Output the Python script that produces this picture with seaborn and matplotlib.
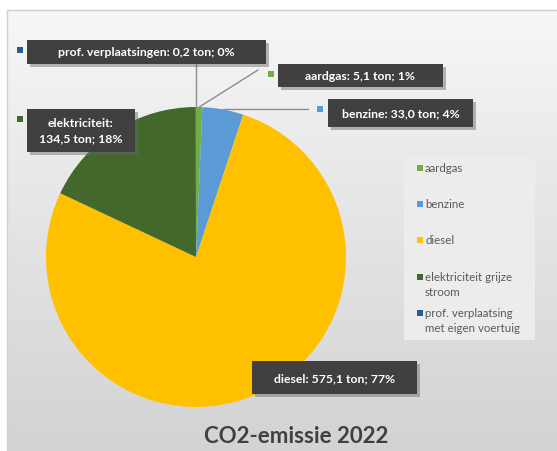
import matplotlib
matplotlib.use("Agg")
import matplotlib.pyplot as plt
import matplotlib.patheffects as pe
from matplotlib.colors import LinearSegmentedColormap
from matplotlib.lines import Line2D
from matplotlib.patches import Rectangle
import numpy as np
import seaborn as sns

# data
categories = ["aardgas", "benzine", "diesel", "elektriciteit grijze stroom",
              "prof. verplaatsing met eigen voertuig"]
legend_labels = ["aardgas", "benzine", "diesel", "elektriciteit grijze\nstroom",
                 "prof. verplaatsing\nmet eigen voertuig"]
label_names = ["aardgas", "benzine", "diesel", "elektriciteit", "prof. verplaatsingen"]
values = [5.1, 33.0, 575.1, 134.5, 0.2]
colors = ["#70ad47", "#5b9bd5", "#ffc000", "#43682b", "#255e91"]
title = "CO2-emissie 2022"

sns.set_theme(style="white")
plt.rcParams["font.family"] = ["Lato", "DejaVu Sans"]

W, H = 557, 452
fig = plt.figure(figsize=(W / 100, H / 100), dpi=100)
fig.patch.set_facecolor("white")


def fx(px):
    return px / W


def fy(py):
    return 1 - py / H


# background gradient of the chart area
bg = fig.add_axes([fx(7), 0, 1 - fx(7), fy(11)], zorder=-10)
cmap = LinearSegmentedColormap.from_list("bg", ["#f7f7f7", "#e4e4e4", "#d3d3d3"])
bg.imshow(np.linspace(0, 1, 256).reshape(-1, 1), cmap=cmap, aspect="auto",
          extent=[0, 1, 0, 1])
bg.set_axis_off()
fig.add_artist(Line2D([fx(7), fx(7), 1], [0, fy(11), fy(11)],
                      transform=fig.transFigure, color="#d0d0d0", lw=1))

# pie
ax = fig.add_axes([fx(46), fy(408), 300 / W, 300 / H])
wedges, _ = ax.pie(values, colors=colors, startangle=90, counterclock=False,
                   wedgeprops=dict(linewidth=0))
ax.set_xlim(-1, 1)
ax.set_ylim(-1, 1)
ax.set_aspect("equal")

total = sum(values)
shadow = [pe.withSimplePatchShadow(offset=(2, -2), shadow_rgbFace="#666666", alpha=0.45)]

# label boxes: (left, top, right, bottom) in px, marker pos
boxes = {
    "aardgas": (278, 65, 443, 88),
    "benzine": (328, 100, 473, 128),
    "diesel": (252, 362, 417, 395),
    "elektriciteit": (27, 110, 135, 153),
    "prof. verplaatsingen": (27, 41, 266, 65),
}
markers = {
    "aardgas": (268, 72),
    "benzine": (317, 107),
    "elektriciteit": (17, 117),
    "prof. verplaatsingen": (17, 48),
}

for name, v, c in zip(label_names, values, colors):
    pct = round(v / total * 100)
    val = f"{v:.1f}".replace(".", ",")
    if name == "elektriciteit":
        txt = f"{name}:\n{val} ton; {pct}%"
    else:
        txt = f"{name}: {val} ton; {pct}%"
    l, t, r, b = boxes[name]
    rect = Rectangle((fx(l), fy(b)), fx(r - l), (b - t) / H, transform=fig.transFigure,
                     facecolor="#404040", edgecolor="none", zorder=5)
    rect.set_path_effects(shadow + [pe.Normal()])
    fig.add_artist(rect)
    fig.text(fx((l + r) / 2), fy((t + b) / 2), txt, ha="center", va="center",
             color="white", fontsize=8.8, fontweight="bold", zorder=6,
             linespacing=1.45)
    if name in markers:
        mx, my = markers[name]
        fig.add_artist(Rectangle((fx(mx), fy(my + 6)), fx(6), 6 / H,
                                 transform=fig.transFigure, facecolor=c,
                                 edgecolor="none", zorder=5))

# leader lines from wedge edges
def edge_point(i, frac):
    a0 = 90 - sum(values[:i]) / total * 360
    a1 = a0 - values[i] / total * 360
    ang = np.deg2rad(a0 + (a1 - a0) * frac)
    p = ax.transData.transform((np.cos(ang), np.sin(ang)))
    return fig.transFigure.inverted().transform(p)


lines = [
    (label_names.index("prof. verplaatsingen"), 1.0, (196, 65)),
    (label_names.index("aardgas"), 0.5, (258, 71)),
    (label_names.index("benzine"), 0.5, (308, 110)),
]
for i, frac, (tx, ty) in lines:
    p = edge_point(i, frac)
    if i == label_names.index("benzine"):
        ty = (1 - p[1]) * H
    fig.add_artist(Line2D([p[0], fx(tx)], [p[1], fy(ty)], transform=fig.transFigure,
                          color="#8c8c8c", lw=1, zorder=4))

# legend, manual layout like the Excel chart
fig.add_artist(Rectangle((fx(404), fy(341)), fx(131), 183 / H, transform=fig.transFigure,
                         facecolor="#ececec", edgecolor="none", zorder=3))
leg_y = [169, 205, 241, 278, 314]
for lab, c, y in zip(legend_labels, colors, leg_y):
    fig.add_artist(Rectangle((fx(417), fy(y + 3)), fx(6), 6 / H,
                             transform=fig.transFigure, facecolor=c,
                             edgecolor="none", zorder=4))
    fig.text(fx(425), fy(y - 6), lab, ha="left", va="top", color="#595959",
             fontsize=8.3, linespacing=1.4, zorder=4)

fig.text(fx(296), fy(437), title, ha="center", va="center", color="#404040",
         fontsize=16, fontweight="bold")

fig.savefig("out.png", dpi=100)
